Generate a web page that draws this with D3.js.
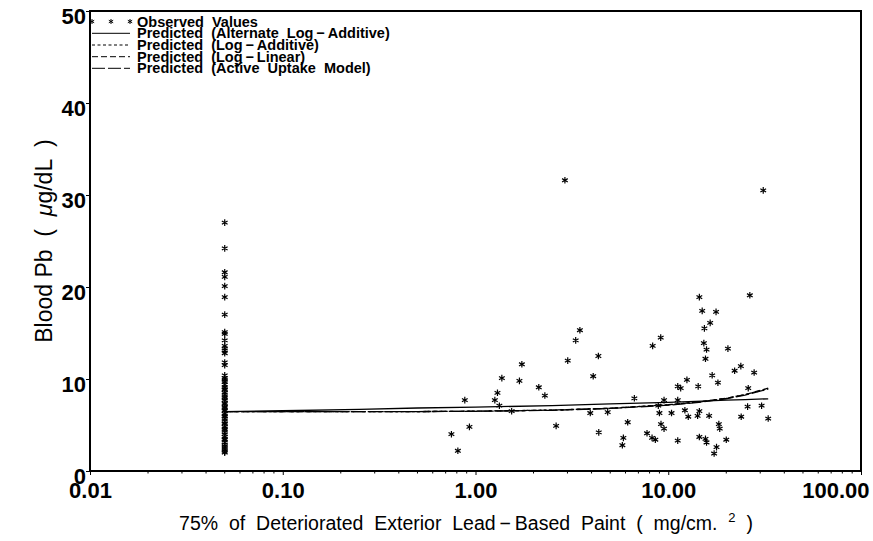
<!DOCTYPE html>
<html>
<head>
<meta charset="utf-8">
<script src="https://cdn.jsdelivr.net/npm/d3@7"></script>
<style>
    body { margin: 0; background: #fff; }
    svg { display: block; font-family: "Liberation Sans", Arial, sans-serif; }
    .axis path, .axis line { stroke: #000; }
    .axis text { fill: #000; }
</style>
</head>
<body>
<div id="chart"></div>
<script>
const WIDTH = 873;
const HEIGHT = 541;
const MARGIN = { top: 11, right: 12, bottom: 70, left: 90 };

// Axis ticks
const xTickValues = [0.01, 0.1, 1, 10, 100];
const xTickLabels = ["0.01", "0.10", "1.00", "10.00", "100.00"];
const yTickValues = [0, 10, 20, 30, 40, 50];

// Observed values: children with no detectable paint lead sit at 0.05
const nondetectLoading = 0.05;
const nondetectBloodPb = [
    27.0, 24.2, 21.6, 21.1, 20.1, 18.9, 17.0, 15.1, 14.9, 14.2, 13.6, 13.3,
    13.1, 12.8, 11.8, 11.5, 10.4, 10.1, 9.9, 9.7, 9.4, 9.1, 8.9, 8.8, 8.5,
    8.3, 8.0, 7.9, 7.7, 7.4, 7.3, 7.0, 6.9, 6.6, 6.5, 6.2, 6.0, 5.9, 5.7,
    5.4, 5.2, 5.1, 4.8, 4.6, 4.5, 4.2, 4.0, 3.7, 3.5, 3.4, 3.1, 2.9, 2.7,
    2.5, 2.3, 2.1, 2.0
];

const paintLoading = [
    2.91, 3.48, 3.31, 4.34, 3.01, 1.74, 4.08, 1.37, 1.69, 2.13, 1.30, 2.29,
    0.88, 1.26, 6.67, 1.33, 1.54, 3.94, 4.85, 6.16, 2.62, 0.93, 0.75, 4.36,
    7.76, 5.85, 5.78, 0.81,
    31.1, 14.5, 26.5, 15.0, 17.7, 16.5, 15.4, 9.14, 8.30, 15.3, 15.8, 20.4,
    15.6, 23.8, 22.1, 27.9, 16.9, 12.5, 18.1, 11.2, 11.6, 14.3, 26.0, 9.51,
    11.2, 8.88, 25.8, 30.5, 9.00, 10.4, 12.2, 14.5, 12.7, 14.2, 16.3, 23.9,
    33.0, 9.17, 9.51, 18.3, 18.5, 8.24, 8.57, 11.2, 14.5, 15.6, 15.8, 20.0,
    17.8, 17.3
];
const bloodPb = [
    31.6, 15.3, 14.2, 12.5, 12.0, 11.6, 10.3, 10.1, 9.8, 9.1, 8.5, 8.2,
    7.7, 7.7, 7.9, 7.1, 6.5, 6.3, 6.4, 5.3, 4.9, 4.8, 4.0, 4.2,
    4.1, 3.6, 2.8, 2.2,
    30.5, 18.9, 19.1, 17.4, 17.3, 16.1, 15.5, 14.5, 13.6, 13.9, 13.2, 13.3,
    12.2, 11.4, 10.9, 10.7, 10.4, 9.9, 9.6, 9.2, 9.0, 9.2, 9.0, 7.7,
    7.7, 7.1, 7.0, 7.1, 6.3, 6.3, 6.6, 6.5, 5.9, 6.0, 6.0, 5.9,
    5.7, 5.1, 4.6, 5.1, 4.6, 3.6, 3.4, 3.3, 3.7, 3.5, 3.1, 3.4,
    2.6, 1.9
];

// Predicted curves
const curveLoading = [0.05, 0.1, 0.25, 0.5, 1, 2.5, 5, 10, 15, 20, 25, 33];
const altLogAdditive = [6.45, 6.55, 6.7, 6.85, 6.95, 7.1, 7.3, 7.45, 7.6, 7.7, 7.75, 7.85];
const logAdditive = [6.45, 6.45, 6.45, 6.46, 6.5, 6.62, 6.82, 7.2, 7.55, 7.9, 8.3, 8.95];
const logLinear = [6.45, 6.45, 6.45, 6.46, 6.5, 6.62, 6.82, 7.2, 7.55, 7.9, 8.3, 9.0];
const activeUptake = [6.45, 6.45, 6.45, 6.46, 6.49, 6.6, 6.8, 7.15, 7.5, 7.85, 8.25, 8.9];

const seriesNames = [
    "Predicted  (Alternate  Log\u2009\u2212\u2009Additive)",
    "Predicted  (Log\u2009\u2212\u2009Additive)",
    "Predicted  (Log\u2009\u2212\u2009Linear)",
    "Predicted  (Active  Uptake  Model)"
];
const seriesDashes = [null, "3,2.5", "6,3", "13,3"];

const innerWidth = WIDTH - MARGIN.left - MARGIN.right;
const innerHeight = HEIGHT - MARGIN.top - MARGIN.bottom;

const x = d3.scaleLog().domain([0.01, 100]).range([0, innerWidth]);
const y = d3.scaleLinear().domain([0, 50]).range([innerHeight, 0]);

const svg = d3.select("#chart")
    .append("svg")
    .attr("width", WIDTH)
    .attr("height", HEIGHT);

const plot = svg.append("g")
    .attr("transform", `translate(${MARGIN.left},${MARGIN.top})`);

// Asterisk marker, like the SAS "star" symbol
function star(size) {
    const a = size * 0.87, b = size * 0.5;
    return `M0,${-size}L0,${size}M${-a},${-b}L${a},${b}M${-a},${b}L${a},${-b}`;
}

// Minor log ticks on the x axis
const minorTicks = [];
[0.01, 0.1, 1, 10].forEach(decade => {
    for (let k = 2; k <= 9; k++) minorTicks.push(decade * k);
});
plot.append("g")
    .selectAll("line")
    .data(minorTicks)
    .join("line")
    .attr("x1", d => x(d))
    .attr("x2", d => x(d))
    .attr("y1", innerHeight)
    .attr("y2", innerHeight + 2.5)
    .attr("stroke", "#000")
    .attr("stroke-width", 1);

const xAxis = plot.append("g")
    .attr("class", "axis")
    .attr("transform", `translate(0,${innerHeight})`)
    .call(d3.axisBottom(x)
        .tickValues(xTickValues)
        .tickFormat((d, i) => xTickLabels[i])
        .tickSize(4)
        .tickSizeOuter(0));
xAxis.select(".domain").remove();
xAxis.selectAll("text")
    .attr("y", 11)
    .style("font-size", "22px")
    .style("font-weight", "bold");
xAxis.selectAll(".tick:last-of-type text")
    .attr("text-anchor", "end")
    .attr("dx", 8);

const yAxis = plot.append("g")
    .attr("class", "axis")
    .call(d3.axisLeft(y)
        .tickValues(yTickValues)
        .tickFormat(d3.format("d"))
        .tickSize(4)
        .tickSizeOuter(0));
yAxis.select(".domain").remove();
yAxis.selectAll("text")
    .attr("x", -4)
    .attr("dy", "0.55em")
    .style("font-size", "22px")
    .style("font-weight", "bold");

// Frame
plot.append("rect")
    .attr("width", innerWidth)
    .attr("height", innerHeight)
    .attr("fill", "none")
    .attr("stroke", "#000")
    .attr("stroke-width", 2);

// Predicted curves
const line = d3.line()
    .x(d => x(d[0]))
    .y(d => y(d[1]));

[altLogAdditive, logAdditive, logLinear, activeUptake].forEach((values, i) => {
    plot.append("path")
        .datum(curveLoading.map((v, j) => [v, values[j]]))
        .attr("d", line)
        .attr("fill", "none")
        .attr("stroke", "#000")
        .attr("stroke-width", 1.3)
        .attr("stroke-dasharray", seriesDashes[i]);
});

// Observed values
const points = nondetectBloodPb.map(v => [nondetectLoading, v])
    .concat(paintLoading.map((v, i) => [v, bloodPb[i]]));

plot.append("g")
    .selectAll("path")
    .data(points)
    .join("path")
    .attr("transform", d => `translate(${x(d[0])},${y(d[1])})`)
    .attr("d", star(3.3))
    .attr("stroke", "#000")
    .attr("stroke-width", 1.2)
    .attr("fill", "none");

// Legend
const legend = svg.append("g").attr("transform", "translate(92,0)");
const rowY = [21.5, 33.3, 45, 56.7, 68.3];
const LEGEND_TEXT_X = 45;

legend.append("g")
    .selectAll("path")
    .data([0, 19, 38])
    .join("path")
    .attr("transform", d => `translate(${d},${rowY[0]})`)
    .attr("d", star(2.5))
    .attr("stroke", "#000")
    .attr("stroke-width", 1)
    .attr("fill", "none");

seriesNames.forEach((name, i) => {
    legend.append("line")
        .attr("x1", 0)
        .attr("x2", 38)
        .attr("y1", rowY[i + 1])
        .attr("y2", rowY[i + 1])
        .attr("stroke", "#000")
        .attr("stroke-width", 1)
        .attr("stroke-dasharray", seriesDashes[i]);
});

legend.append("g")
    .selectAll("text")
    .data(["Observed  Values"].concat(seriesNames))
    .join("text")
    .attr("x", LEGEND_TEXT_X)
    .attr("y", (d, i) => rowY[i] + 5)
    .style("font-size", "14.5px")
    .style("font-weight", "bold")
    .style("white-space", "pre")
    .text(d => d);

// Axis titles
const yTitle = svg.append("text")
    .attr("transform", `translate(52,${MARGIN.top + innerHeight / 2}) rotate(-90)`)
    .attr("text-anchor", "middle")
    .style("font-size", "23px")
    .style("white-space", "pre");
yTitle.append("tspan").text("Blood Pb  (  ");
yTitle.append("tspan").style("font-style", "italic").text("\u03bc");
yTitle.append("tspan").text("g/dL  )");

const xTitle = svg.append("text")
    .attr("x", 466)
    .attr("y", 530)
    .attr("text-anchor", "middle")
    .style("font-size", "19.5px")
    .style("white-space", "pre");
xTitle.append("tspan").text("75%  of  Deteriorated  Exterior  Lead\u2009\u2212\u2009Based  Paint  (  mg/cm.  ");
xTitle.append("tspan").attr("dy", -8).style("font-size", "13px").text("2");
xTitle.append("tspan").attr("dy", 8).text("  )");
</script>
</body>
</html>
